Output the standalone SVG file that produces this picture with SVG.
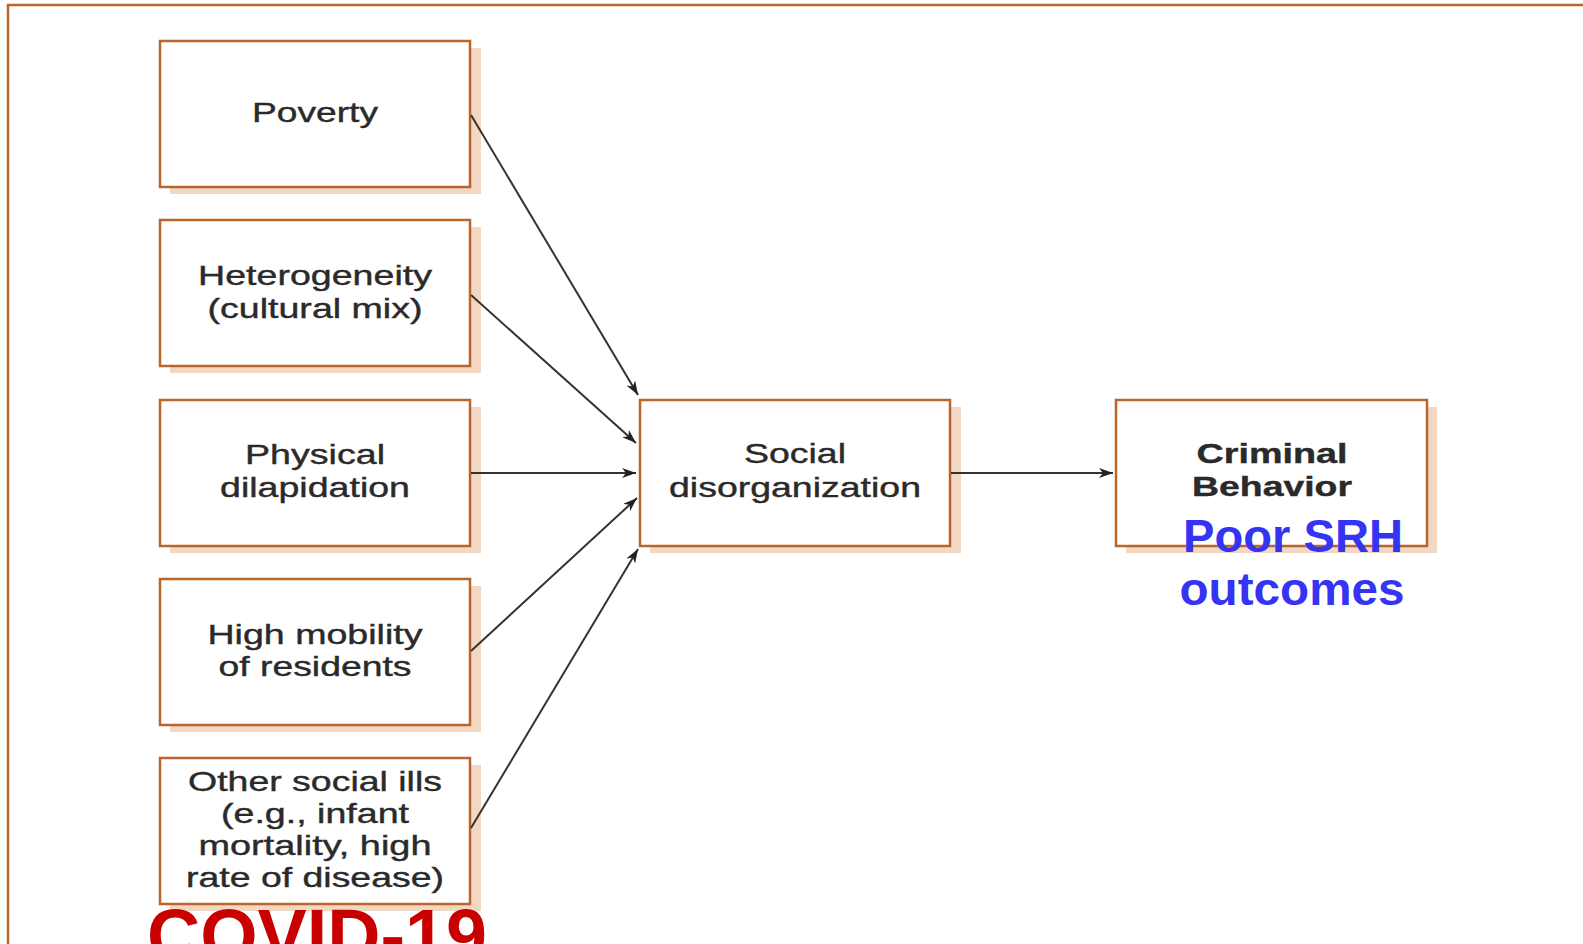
<svg xmlns="http://www.w3.org/2000/svg" width="1583" height="944" viewBox="0 0 1583 944">
<style>
.frame{fill:none;stroke:#b8662c;stroke-width:2.5}
.shadow{fill:#f2d7c2}
.box{fill:#fff;stroke:#b8662c;stroke-width:2.5}
.t{font-family:"Liberation Sans",Arial,sans-serif;font-size:28px;fill:#2a2a2a;stroke:#2a2a2a;stroke-width:0.4;text-anchor:middle}
.b{font-weight:bold}
.edge{stroke:#333;stroke-width:2;fill:none;marker-end:url(#arr)}
.blue{font-family:"Liberation Sans",Arial,sans-serif;font-size:46px;font-weight:bold;fill:#3434f2;text-anchor:middle}
.red{font-family:"Liberation Sans",Arial,sans-serif;font-size:74px;font-weight:bold;fill:#c80000;text-anchor:middle}
</style>
<defs>
<marker id="arr" markerUnits="userSpaceOnUse" markerWidth="16" markerHeight="12" refX="14" refY="5" orient="auto">
<path d="M0,0 L14,5 L0,10 L4,5 z" fill="#222"/>
</marker>
</defs>
<rect width="1583" height="944" fill="#fff"/>
<rect class="frame" x="8" y="5" width="1600" height="1000"/>

<g id="poverty">
<rect class="shadow" x="170" y="48" width="311" height="146"/>
<rect class="box" x="160" y="41" width="310" height="146"/>
<text class="t" x="315" y="122" textLength="126" lengthAdjust="spacingAndGlyphs">Poverty</text>
</g>
<g id="heterogeneity">
<rect class="shadow" x="170" y="227" width="311" height="146"/>
<rect class="box" x="160" y="220" width="310" height="146"/>
<text class="t" x="315" y="285" textLength="234" lengthAdjust="spacingAndGlyphs">Heterogeneity</text>
<text class="t" x="315" y="318" textLength="215" lengthAdjust="spacingAndGlyphs">(cultural mix)</text>
</g>
<g id="physical">
<rect class="shadow" x="170" y="407" width="311" height="146"/>
<rect class="box" x="160" y="400" width="310" height="146"/>
<text class="t" x="315" y="464" textLength="140" lengthAdjust="spacingAndGlyphs">Physical</text>
<text class="t" x="315" y="497" textLength="190" lengthAdjust="spacingAndGlyphs">dilapidation</text>
</g>
<g id="mobility">
<rect class="shadow" x="170" y="586" width="311" height="146"/>
<rect class="box" x="160" y="579" width="310" height="146"/>
<text class="t" x="315" y="644" textLength="215" lengthAdjust="spacingAndGlyphs">High mobility</text>
<text class="t" x="315" y="676" textLength="193" lengthAdjust="spacingAndGlyphs">of residents</text>
</g>
<g id="other">
<rect class="shadow" x="170" y="765" width="311" height="146"/>
<rect class="box" x="160" y="758" width="310" height="146"/>
<text class="t" x="315" y="791" textLength="254" lengthAdjust="spacingAndGlyphs">Other social ills</text>
<text class="t" x="315" y="823" textLength="188" lengthAdjust="spacingAndGlyphs">(e.g., infant</text>
<text class="t" x="315" y="855" textLength="233" lengthAdjust="spacingAndGlyphs">mortality, high</text>
<text class="t" x="315" y="887" textLength="258" lengthAdjust="spacingAndGlyphs">rate of disease)</text>
</g>
<g id="social">
<rect class="shadow" x="650" y="407" width="311" height="146"/>
<rect class="box" x="640" y="400" width="310" height="146"/>
<text class="t" x="795" y="463" textLength="102" lengthAdjust="spacingAndGlyphs">Social</text>
<text class="t" x="795" y="497" textLength="252" lengthAdjust="spacingAndGlyphs">disorganization</text>
</g>
<g id="criminal">
<rect class="shadow" x="1126" y="407" width="311" height="146"/>
<rect class="box" x="1116" y="400" width="311" height="146"/>
<text class="t b" x="1272" y="463" textLength="151" lengthAdjust="spacingAndGlyphs">Criminal</text>
<text class="t b" x="1272" y="496" textLength="160" lengthAdjust="spacingAndGlyphs">Behavior</text>
</g>

<g id="connectors">
<line class="edge" x1="471" y1="115" x2="638" y2="395"/>
<line class="edge" x1="471" y1="295" x2="636" y2="443"/>
<line class="edge" x1="471" y1="473" x2="636" y2="473"/>
<line class="edge" x1="471" y1="651" x2="637" y2="498"/>
<line class="edge" x1="471" y1="828" x2="638" y2="549"/>
<line class="edge" x1="951" y1="473" x2="1113" y2="473"/>
</g>

<g id="srh">
<text class="blue" x="1293" y="552" textLength="220" lengthAdjust="spacingAndGlyphs">Poor SRH</text>
<text class="blue" x="1292" y="605" textLength="225" lengthAdjust="spacingAndGlyphs">outcomes</text>
</g>
<g id="covid">
<text class="red" x="317" y="961" textLength="340" lengthAdjust="spacingAndGlyphs">COVID-19</text>
</g>
</svg>
